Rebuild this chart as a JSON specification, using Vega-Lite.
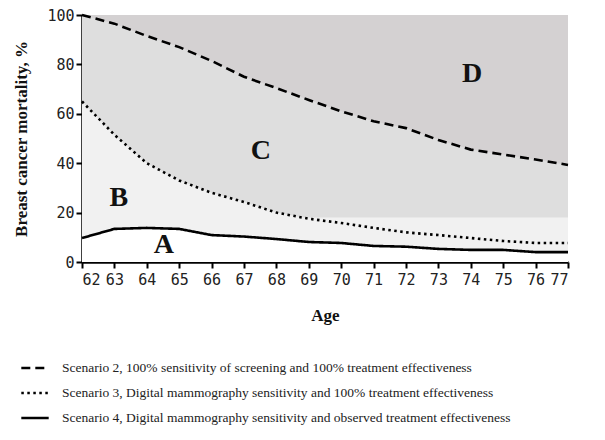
{
  "$schema": "https://vega.github.io/schema/vega-lite/v6.json",
  "width": 486,
  "height": 247,
  "autosize": {"type": "none"},
  "padding": {"left": 82, "top": 15, "right": 37, "bottom": 178},
  "background": "white",
  "config": {
    "view": {"fill": "#d4d1d2", "stroke": null},
    "axis": {
      "domainColor": "#000", "domainWidth": 2.5, "tickColor": "#000", "tickWidth": 2, "tickSize": 6,
      "labelFont": "DejaVu Sans Mono", "labelFontSize": 15, "labelColor": "#222",
      "titleFont": "Liberation Serif", "titleFontSize": 17, "titleFontWeight": "bold", "titleColor": "#111",
      "grid": false
    },
    "legend": {
      "labelFont": "Liberation Serif", "labelFontSize": 13.5, "labelColor": "#222", "labelLimit": 700
    }
  },
  "datasets": {
    "curves": [
      {"age": 62, "s2": 100, "s3": 65, "s4": 9.7, "band": 18},
      {"age": 63, "s2": 96.5, "s3": 51.5, "s4": 13.4, "band": 18},
      {"age": 64, "s2": 91.5, "s3": 40, "s4": 13.8, "band": 18},
      {"age": 65, "s2": 87, "s3": 33, "s4": 13.4, "band": 18},
      {"age": 66, "s2": 81.4, "s3": 28, "s4": 10.9, "band": 18},
      {"age": 67, "s2": 75, "s3": 24.3, "s4": 10.3, "band": 18},
      {"age": 68, "s2": 70.4, "s3": 20, "s4": 9.3, "band": 18},
      {"age": 69, "s2": 65.6, "s3": 17.5, "s4": 8.1, "band": 18},
      {"age": 70, "s2": 61, "s3": 15.8, "s4": 7.7, "band": 18},
      {"age": 71, "s2": 57, "s3": 13.8, "s4": 6.5, "band": 18},
      {"age": 72, "s2": 54.2, "s3": 12, "s4": 6.2, "band": 18},
      {"age": 73, "s2": 49.4, "s3": 10.9, "s4": 5.3, "band": 18},
      {"age": 74, "s2": 45.5, "s3": 9.7, "s4": 4.9, "band": 18},
      {"age": 75, "s2": 43.5, "s3": 8.5, "s4": 4.9, "band": 18},
      {"age": 76, "s2": 41.5, "s3": 7.7, "s4": 4.0, "band": 18},
      {"age": 77, "s2": 39.3, "s3": 7.7, "s4": 4.0, "band": 18}
    ],
    "letters": [
      {"age": 64.53, "value": 6.9, "label": "A"},
      {"age": 63.14, "value": 25.9, "label": "B"},
      {"age": 67.52, "value": 44.9, "label": "C"},
      {"age": 74.04, "value": 76.1, "label": "D"}
    ]
  },
  "encoding": {
    "x": {
      "field": "age", "type": "quantitative", "title": "Age",
      "scale": {"domain": [62, 77], "nice": false, "zero": false},
      "axis": {"values": [62,63,64,65,66,67,68,69,70,71,72,73,74,75,76,77], "labelPadding": 4, "titlePadding": 20}
    }
  },
  "layer": [
    {
      "data": {"name": "curves"},
      "mark": {"type": "area", "color": "#dedede"},
      "encoding": {
        "y": {"field": "s2", "type": "quantitative", "title": "Breast cancer mortality, %",
              "scale": {"domain": [0, 100], "nice": false},
              "axis": {"values": [0,20,40,60,80,100], "labelPadding": 2, "titlePadding": 16}},
        "y2": {"datum": 0}
      }
    },
    {
      "data": {"name": "curves"},
      "mark": {"type": "area", "color": "#f1f1f1"},
      "encoding": {"y": {"field": "band", "type": "quantitative", "title": "Breast cancer mortality, %",
              "axis": {"values": [0,20,40,60,80,100], "labelPadding": 2, "titlePadding": 16}}, "y2": {"datum": 0}}
    },
    {
      "data": {"name": "curves"},
      "mark": {"type": "area", "color": "#f1f1f1"},
      "encoding": {"y": {"field": "s3", "type": "quantitative", "title": "Breast cancer mortality, %",
              "axis": {"values": [0,20,40,60,80,100], "labelPadding": 2, "titlePadding": 16}}, "y2": {"datum": 0}}
    },
    {
      "data": {"name": "curves"},
      "mark": {"type": "area", "color": "#ffffff"},
      "encoding": {"y": {"field": "s4", "type": "quantitative", "title": "Breast cancer mortality, %",
              "axis": {"values": [0,20,40,60,80,100], "labelPadding": 2, "titlePadding": 16}}, "y2": {"datum": 0}}
    },
    {
      "data": {"name": "curves"},
      "transform": [{"fold": ["s2", "s3", "s4"], "as": ["scenario", "value"]}],
      "mark": {"type": "line", "color": "#000", "strokeWidth": 2.6},
      "encoding": {
        "y": {"field": "value", "type": "quantitative", "title": "Breast cancer mortality, %",
              "axis": {"values": [0,20,40,60,80,100], "labelPadding": 2, "titlePadding": 16}},
        "strokeDash": {
          "field": "scenario", "type": "nominal",
          "scale": {"domain": ["s2", "s3", "s4"], "range": [[9, 5], [2.5, 3.5], [1, 0]]},
          "legend": {
            "title": null, "orient": "none", "legendX": -62, "legendY": 338,
            "symbolType": "stroke", "symbolSize": 750, "symbolStrokeWidth": 2.6, "symbolStrokeColor": "#000",
            "rowPadding": 3, "labelOffset": 12,
            "labelExpr": "datum.label == 's2' ? 'Scenario 2, 100% sensitivity of screening and 100% treatment effectiveness' : datum.label == 's3' ? 'Scenario 3, Digital mammography sensitivity and 100% treatment effectiveness' : 'Scenario 4, Digital mammography sensitivity and observed treatment effectiveness'"
          }
        }
      }
    },
    {
      "data": {"name": "letters"},
      "mark": {"type": "text", "font": "Liberation Serif", "fontWeight": "bold", "fontSize": 28, "color": "#111", "baseline": "middle", "align": "center"},
      "encoding": {
        "y": {"field": "value", "type": "quantitative", "title": "Breast cancer mortality, %",
              "axis": {"values": [0,20,40,60,80,100], "labelPadding": 2, "titlePadding": 16}},
        "text": {"field": "label"}
      }
    }
  ]
}
